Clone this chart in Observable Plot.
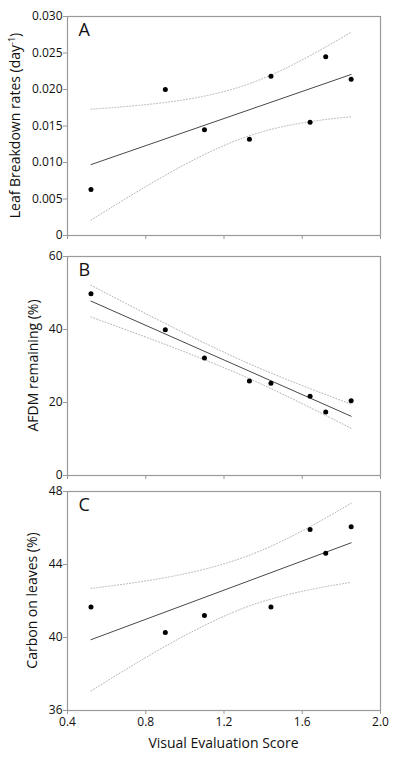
<!DOCTYPE html>
<html>
<head>
<meta charset="utf-8">
<script src="https://cdn.jsdelivr.net/npm/d3@7"></script>
<script src="https://cdn.jsdelivr.net/npm/@observablehq/plot@0.6"></script>
<style>
  html, body { margin: 0; padding: 0; background: #fff; }
  #chart svg { display: block; overflow: visible; position: relative; }
</style>
</head>
<body>
<div id="chart"></div>
<script>
// ---- data ----
const xScore = [0.52, 0.90, 1.10, 1.33, 1.44, 1.64, 1.72, 1.85];
const breakdownRate = [0.0063, 0.0200, 0.0145, 0.0132, 0.0218, 0.0155, 0.0245, 0.0214];
const afdmRemaining = [49.8, 39.9, 32.2, 25.9, 25.3, 21.7, 17.4, 20.5];
const xCarbon = [0.52, 0.90, 1.10, 1.44, 1.64, 1.72, 1.85];
const carbon = [41.67, 40.27, 41.20, 41.67, 45.92, 44.61, 46.07];

// fitted regression lines (end points)
const fitX = [0.52, 1.85];
const fitA = [0.00971, 0.02206];
const fitB = [47.78, 16.23];
const fitC = [39.88, 45.19];

// 95% confidence band (dotted curves), sampled along x
const bandX = [0.52, 0.7, 0.9, 1.1, 1.3, 1.5, 1.7, 1.85];
const bandAUpper = [0.0173, 0.01767, 0.01823, 0.0191, 0.02052, 0.02271, 0.02552, 0.02785];
const bandALower = [0.0021, 0.00509, 0.00825, 0.0111, 0.01338, 0.01491, 0.01582, 0.01627];
const bandBUpper = [52.13, 47.11, 41.63, 36.31, 31.32, 26.77, 22.57, 19.54];
const bandBLower = [43.43, 39.91, 35.91, 31.73, 27.24, 22.29, 17.01, 12.92];
const bandCUpper = [42.69, 42.94, 43.28, 43.74, 44.39, 45.30, 46.43, 47.36];
const bandCLower = [37.07, 38.26, 39.52, 40.66, 41.61, 42.28, 42.75, 43.02];

// axes
const xTicks = [0.4, 0.8, 1.2, 1.6, 2.0];
const yTicksA = [0, 0.005, 0.010, 0.015, 0.020, 0.025, 0.030];
const yTicksB = [0, 20, 40, 60];
const yTicksC = [36, 40, 44, 48];

const FONT = "'Open Sans', 'DejaVu Sans', sans-serif";
const GRAY = "#9a9a9a";

function panel({letter, xs, ys, fy, bandU, bandL, yDomain, yTicks, yFmt, showX, height, mt, mb, ylabel, ylabelX}) {
  const pts = xs.map((x, i) => ({x, y: ys[i]}));
  const fit = fitX.map((x, i) => ({x, y: fy[i]}));
  const up = bandX.map((x, i) => ({x, y: bandU[i]}));
  const lo = bandX.map((x, i) => ({x, y: bandL[i]}));
  const svg = Plot.plot({
    width: 394, height,
    marginLeft: 67, marginRight: 14, marginTop: mt, marginBottom: mb,
    style: {fontFamily: FONT, fontSize: "12px", color: "#111", background: "transparent", overflow: "visible"},
    x: {domain: [0.4, 2.0]},
    y: {domain: yDomain},
    marks: [
      Plot.line(up, {x: "x", y: "y", curve: "natural", stroke: "#b4b4b4", strokeWidth: 1, strokeDasharray: "1,2"}),
      Plot.line(lo, {x: "x", y: "y", curve: "natural", stroke: "#b4b4b4", strokeWidth: 1, strokeDasharray: "1,2"}),
      Plot.line(fit, {x: "x", y: "y", stroke: "#333", strokeWidth: 0.9}),
      Plot.dot(pts, {x: "x", y: "y", r: 2.5, fill: "#000", stroke: "none"}),
      Plot.frame({stroke: GRAY, strokeWidth: 1.2}),
      Plot.axisY({ticks: yTicks, tickFormat: yFmt, tickSize: 4, tickPadding: 1, stroke: GRAY, fill: "#111", label: null, fontSize: 12}),
      Plot.axisX({ticks: xTicks, tickFormat: showX ? (d => d.toFixed(1)) : (() => ""), tickSize: 4, tickPadding: 3, stroke: GRAY, fill: "#111", label: null, fontSize: 12}),
      Plot.text([letter], {text: d => d, frameAnchor: "top-left", dx: 11, dy: 7, lineAnchor: "top", fontSize: 18, fill: "#111"})
    ]
  });
  const s = d3.select(svg);
  const cy = mt + (height - mt - mb) / 2;
  const t = s.append("text")
    .attr("transform", `translate(${ylabelX},${cy}) rotate(-90)`)
    .attr("text-anchor", "middle")
    .attr("font-family", FONT)
    .attr("font-size", 14)
    .attr("fill", "#111");
  t.append("tspan").text(ylabel[0]);
  if (ylabel[1]) {
    t.append("tspan").attr("dy", -5).attr("font-size", 9).text(ylabel[1]);
    t.append("tspan").attr("dy", 5).text(ylabel[2]);
  }
  if (showX) {
    s.append("text")
      .attr("x", 67 + (394 - 67 - 14) / 2)
      .attr("y", height - 10)
      .attr("text-anchor", "middle")
      .attr("font-family", FONT)
      .attr("font-size", 14)
      .attr("fill", "#111")
      .text("Visual Evaluation Score");
  }
  return svg;
}

const root = document.getElementById("chart");
const svgs = [
  panel({
    letter: "A", xs: xScore, ys: breakdownRate, fy: fitA, bandU: bandAUpper, bandL: bandALower,
    yDomain: [0, 0.030], yTicks: yTicksA, yFmt: d => d === 0 ? "0" : d.toFixed(3),
    showX: false, height: 240, mt: 16, mb: 5,
    ylabel: ["Leaf Breakdown rates (day", "-1", ")"], ylabelX: 20
  }),
  panel({
    letter: "B", xs: xScore, ys: afdmRemaining, fy: fitB, bandU: bandBUpper, bandL: bandBLower,
    yDomain: [0, 60], yTicks: yTicksB, yFmt: d => String(d),
    showX: false, height: 240, mt: 16, mb: 5,
    ylabel: ["AFDM remaining (%)"], ylabelX: 38
  }),
  panel({
    letter: "C", xs: xCarbon, ys: carbon, fy: fitC, bandU: bandCUpper, bandL: bandCLower,
    yDomain: [36, 48], yTicks: yTicksC, yFmt: d => String(d),
    showX: true, height: 278, mt: 11, mb: 48,
    ylabel: ["Carbon on leaves (%)"], ylabelX: 37
  })
];
// earlier panels drawn on top so their bottom tick labels are not covered
svgs.forEach((svg, i) => { svg.style.zIndex = String(10 - i); root.append(svg); });
</script>
</body>
</html>
